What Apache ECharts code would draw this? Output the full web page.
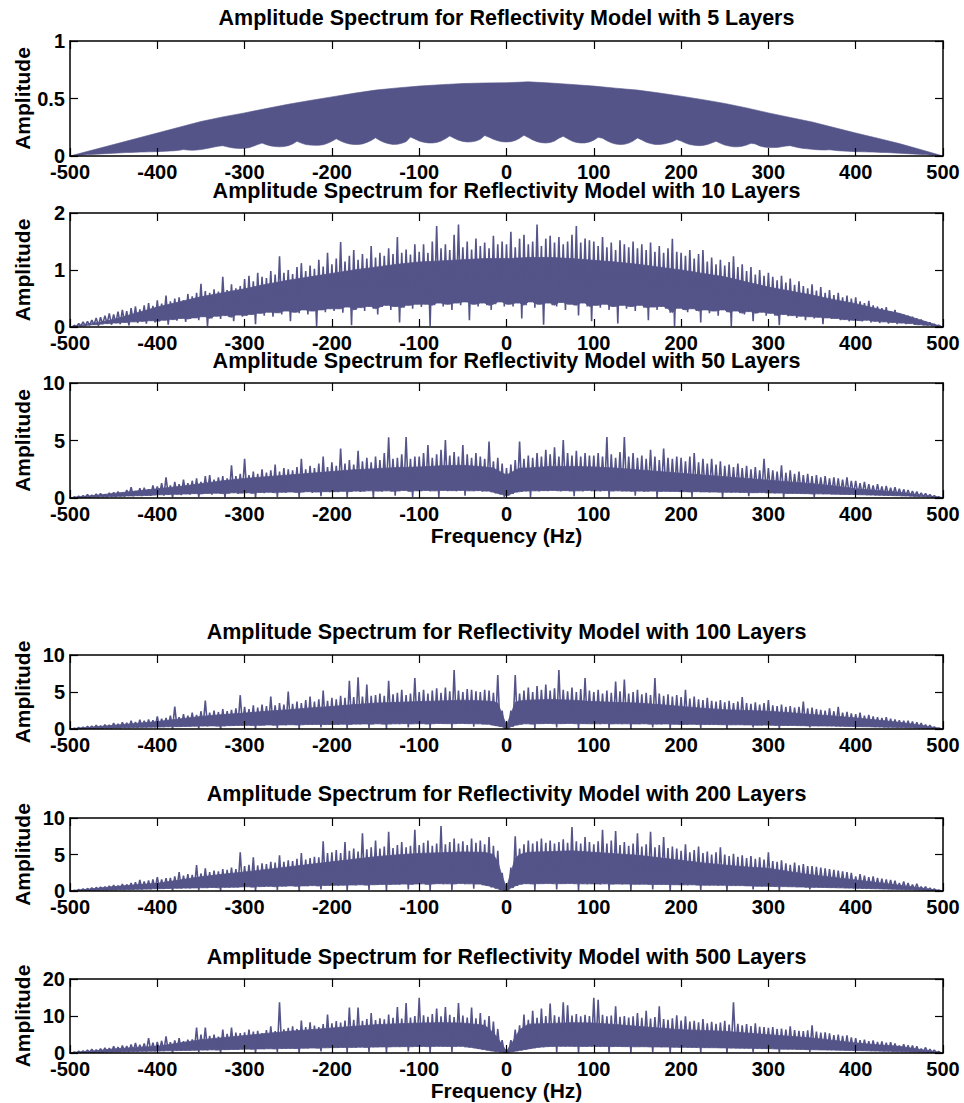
<!DOCTYPE html>
<html><head><meta charset="utf-8">
<script src="https://cdn.jsdelivr.net/npm/echarts@6/dist/echarts.min.js"></script>
<style>html,body{margin:0;padding:0;background:#fff}#c{width:964px;height:1103px}</style>
</head><body><div id="c"></div>
<script>
// ---------- data ----------
const titles = [
  'Amplitude Spectrum for Reflectivity Model with 5 Layers',
  'Amplitude Spectrum for Reflectivity Model with 10 Layers',
  'Amplitude Spectrum for Reflectivity Model with 50 Layers',
  'Amplitude Spectrum for Reflectivity Model with 100 Layers',
  'Amplitude Spectrum for Reflectivity Model with 200 Layers',
  'Amplitude Spectrum for Reflectivity Model with 500 Layers'
];
const yLabel = 'Amplitude';
const xLabel = 'Frequency (Hz)';
const xMin = -500, xMax = 500, xStep = 100;
const yMaxes = [1, 2, 10, 10, 10, 20];
const ySteps = [0.5, 1, 5, 5, 5, 10];

// frequency grids (Hz)
const freq25 = []; for (let f = -500; f <= 500; f += 25) freq25.push(f);
const freq5 = []; for (let f = -500; f <= 500; f += 5) freq5.push(f);
// frequencies at which the solid core top was read (finer near 0 Hz)
const coreFreq = [];
for (let f = -500; f <= -25; f += 25) coreFreq.push(f);
coreFreq.push(-15, -10, -5, 0, 5, 10, 15);
for (let f = 25; f <= 500; f += 25) coreFreq.push(f);

// 5 layers: upper envelope (25 Hz grid) and scalloped lower envelope (5 Hz grid)
const upper5L = [0,0.05,0.1,0.15,0.2,0.25,0.3,0.34,0.375,0.413,0.45,0.483,0.514,0.545,0.573,0.592,0.608,0.62,0.63,0.635,
  0.637,0.645,0.635,0.622,0.608,0.59,0.573,0.548,0.52,0.49,0.457,0.418,0.375,0.335,0.296,0.248,0.2,0.155,0.108,0.055,0];
const lower5L = [
  0,0.003,0.006,0.009,0.012,0.014,0.016,0.018,0.02,0.022,0.024,0.026,0.028,0.03,0.031,0.032,0.034,0.035,0.036,0.037,
  0.038,0.04,0.042,0.044,0.046,0.05,0.056,0.052,0.05,0.052,0.056,0.062,0.07,0.078,0.085,0.09,0.08,0.072,0.067,0.065,
  0.067,0.072,0.085,0.1,0.112,0.098,0.088,0.082,0.08,0.082,0.09,0.105,0.128,0.112,0.1,0.095,0.093,0.093,0.098,0.11,
  0.128,0.15,0.13,0.115,0.105,0.1,0.1,0.105,0.118,0.135,0.158,0.135,0.118,0.107,0.101,0.102,0.11,0.125,0.165,0.148,
  0.13,0.12,0.114,0.113,0.118,0.13,0.15,0.175,0.155,0.138,0.127,0.122,0.123,0.13,0.145,0.178,0.163,0.145,0.132,0.124,
  0.122,0.125,0.135,0.155,0.18,0.16,0.14,0.125,0.116,0.113,0.117,0.13,0.155,0.172,0.15,0.13,0.118,0.113,0.114,0.122,
  0.138,0.162,0.155,0.132,0.115,0.104,0.1,0.102,0.112,0.13,0.157,0.14,0.12,0.108,0.101,0.1,0.104,0.113,0.125,0.143,
  0.13,0.112,0.1,0.093,0.09,0.092,0.1,0.113,0.128,0.11,0.095,0.086,0.08,0.08,0.085,0.095,0.11,0.105,0.088,0.078,
  0.073,0.073,0.075,0.08,0.086,0.09,0.08,0.072,0.066,0.062,0.058,0.055,0.053,0.052,0.054,0.05,0.046,0.044,0.042,0.04,
  0.038,0.037,0.036,0.035,0.034,0.032,0.031,0.03,0.028,0.026,0.024,0.022,0.02,0.018,0.016,0.014,0.012,0.009,0.006,0.003,
  0];

// 10 layers: peaks (at -500+5i), troughs (at -497.5+5i), solid core top (at coreFreq)
const peaks10 = [
  0,0.03,0.06,0.09,0.1,0.12,0.16,0.17,0.2,0.24,0.22,0.27,0.3,0.28,0.33,0.36,0.31,0.38,0.42,0.37,
  0.47,0.41,0.55,0.45,0.5,0.52,0.47,0.58,0.54,0.6,0.76,0.63,0.6,0.66,0.62,0.88,0.65,0.75,0.68,0.72,
  0.84,0.9,0.8,0.95,0.88,0.86,0.98,0.92,1.24,0.95,1.0,0.93,1.05,1.12,0.98,1.08,1.02,1.18,1.06,1.3,
  1.1,1.2,1.49,1.15,1.25,1.35,1.18,1.28,1.2,1.42,1.22,1.3,1.25,1.38,1.28,1.58,1.3,1.36,1.27,1.45,
  1.32,1.45,1.3,1.5,1.77,1.38,1.45,1.35,1.62,1.8,1.4,1.5,1.36,1.55,1.42,1.48,1.38,1.6,1.45,1.5,
  1.45,1.67,1.4,1.55,1.62,1.45,1.5,1.8,1.42,1.55,1.6,1.48,1.58,1.45,1.5,1.62,1.77,1.48,1.55,1.52,
  1.5,1.42,1.58,1.4,1.48,1.35,1.52,1.45,1.4,1.5,1.38,1.45,1.35,1.48,1.32,1.42,1.3,1.38,1.55,1.32,
  1.3,1.25,1.35,1.2,1.28,1.35,1.15,1.22,1.1,1.18,1.08,1.14,1.24,1.05,1.1,0.98,1.05,0.92,1.0,0.9,
  0.95,0.88,0.82,0.9,0.78,0.85,0.74,0.8,0.72,0.68,0.75,0.64,0.7,0.6,0.65,0.56,0.6,0.52,0.55,0.5,
  0.52,0.45,0.42,0.46,0.38,0.36,0.33,0.35,0.28,0.3,0.24,0.22,0.2,0.18,0.15,0.13,0.1,0.08,0.05,0.03,
  0];
const troughs10 = [
  0,0.01,0.02,0.02,0.03,0.04,0.02,0.05,0.06,0.04,0.07,0.05,0.08,0.03,0.09,0.07,0.1,0.06,0.11,0.08,
  0.1,0.12,0.04,0.13,0.11,0.15,0.09,0.14,0.16,0.12,0.18,0.02,0.15,0.19,0.14,0.2,0.17,0.1,0.21,0.18,
  0.2,0.22,0.05,0.24,0.2,0.26,0.18,0.25,0.22,0.28,0.1,0.26,0.24,0.3,0.22,0.28,0.02,0.3,0.26,0.32,
  0.28,0.32,0.25,0.35,0.03,0.3,0.34,0.28,0.36,0.32,0.22,0.35,0.38,0.3,0.36,0.08,0.34,0.38,0.32,0.4,
  0.35,0.4,0.02,0.38,0.42,0.36,0.4,0.3,0.42,0.38,0.44,0.12,0.4,0.36,0.42,0.38,0.3,0.4,0.44,0.36,
  0.4,0.36,0.42,0.15,0.38,0.44,0.34,0.4,0.04,0.42,0.38,0.36,0.43,0.3,0.4,0.38,0.2,0.42,0.36,0.1,
  0.38,0.34,0.4,0.3,0.36,0.06,0.38,0.32,0.36,0.28,0.38,0.34,0.12,0.35,0.3,0.36,0.32,0.25,0.02,0.33,
  0.3,0.26,0.32,0.28,0.08,0.3,0.24,0.28,0.2,0.3,0.26,0.02,0.28,0.24,0.22,0.27,0.1,0.24,0.26,0.2,
  0.24,0.2,0.03,0.22,0.19,0.2,0.16,0.19,0.12,0.18,0.15,0.17,0.05,0.16,0.14,0.15,0.12,0.13,0.1,0.12,
  0.11,0.1,0.12,0.08,0.1,0.07,0.09,0.06,0.08,0.05,0.07,0.05,0.06,0.04,0.04,0.03,0.03,0.02,0.01,0.01];
const core10 = [0,0.06,0.13,0.24,0.35,0.44,0.53,0.6,0.67,0.75,0.82,0.88,0.94,1.0,1.05,1.1,1.14,1.16,1.18,1.2,
  1.2,1.2,1.2,1.2,1.2,1.21,1.21,
  1.22,1.22,1.2,1.17,1.14,1.1,1.05,1.0,0.94,0.88,0.79,0.7,0.63,0.56,0.48,0.41,0.32,0.24,0.12,0];

// 50 layers
const peaks50 = [
  0,0.1,0.15,0.2,0.3,0.25,0.35,0.4,0.3,0.45,0.5,0.55,0.45,0.7,0.95,0.6,0.85,0.9,0.75,1.1,
  1.0,1.3,1.8,1.1,1.4,1.2,1.6,1.3,1.5,1.7,1.4,1.9,2.0,1.6,1.8,1.9,1.7,2.85,1.9,2.1,
  3.4,2.0,2.3,2.1,2.5,2.2,2.4,2.9,2.3,2.6,2.5,2.4,2.7,3.4,2.5,2.8,2.6,3.0,3.6,2.7,
  3.1,2.8,4.3,3.0,3.3,2.9,4.1,3.2,3.5,3.1,3.6,3.3,3.9,5.27,3.4,3.5,3.8,5.3,3.4,3.6,
  3.6,3.9,4.6,3.5,3.8,4.2,5.03,3.7,4.0,3.6,4.6,3.8,3.5,3.9,3.6,3.4,4.9,3.2,3.5,3.0,
  2.6,2.9,3.3,4.9,3.4,3.7,3.5,3.9,3.6,4.2,3.8,4.4,3.6,5.03,3.9,3.7,4.1,3.6,3.9,3.7,
  3.7,3.9,3.6,5.3,3.8,3.5,4.0,5.3,3.6,3.9,3.5,3.7,3.4,4.2,3.6,3.3,4.3,3.5,3.4,3.6,
  3.5,3.2,3.6,3.9,3.1,3.4,3.0,3.4,2.9,3.2,2.8,2.9,2.7,3.0,2.6,2.8,2.5,2.7,2.4,3.4,
  2.6,2.4,2.3,2.85,2.2,2.4,2.1,2.3,2.0,2.1,1.9,2.0,1.8,1.9,1.7,1.8,1.7,1.6,1.8,1.5,
  1.5,1.3,1.4,1.2,1.1,1.2,1.0,1.05,0.9,0.95,0.8,0.75,0.7,0.6,0.55,0.45,0.4,0.3,0.2,0.1,
  0];
const troughs50 = [
  0,0.02,0.03,0.05,0.04,0.08,0.06,0.1,0.08,0.12,0.1,0.15,0.12,0.18,0.15,0.2,0.18,0.22,0.2,0.25,
  0.28,0.2,0.3,0.05,0.32,0.25,0.35,0.3,0.38,0.1,0.35,0.4,0.3,0.42,0.38,0.05,0.4,0.45,0.35,0.42,
  0.45,0.4,0.02,0.48,0.42,0.5,0.45,0.1,0.5,0.46,0.52,0.48,0.05,0.5,0.55,0.45,0.52,0.15,0.55,0.5,
  0.55,0.5,0.58,0.08,0.55,0.6,0.52,0.58,0.62,0.02,0.6,0.55,0.62,0.58,0.2,0.6,0.65,0.56,0.1,0.62,
  0.6,0.65,0.58,0.62,0.05,0.66,0.6,0.64,0.58,0.66,0.2,0.62,0.6,0.64,0.55,0.6,0.5,0.4,0.3,0.1,
  0.2,0.35,0.5,0.55,0.6,0.1,0.62,0.58,0.64,0.6,0.66,0.62,0.58,0.64,0.6,0.15,0.62,0.58,0.65,0.6,
  0.62,0.58,0.64,0.05,0.6,0.62,0.56,0.6,0.58,0.2,0.6,0.55,0.58,0.6,0.02,0.56,0.58,0.54,0.57,0.55,
  0.55,0.52,0.1,0.55,0.5,0.53,0.48,0.52,0.5,0.02,0.5,0.47,0.5,0.45,0.48,0.15,0.46,0.44,0.47,0.42,
  0.44,0.4,0.43,0.05,0.4,0.38,0.4,0.36,0.38,0.35,0.1,0.36,0.33,0.35,0.32,0.33,0.3,0.31,0.28,0.3,
  0.27,0.28,0.25,0.26,0.23,0.24,0.21,0.22,0.19,0.2,0.17,0.18,0.15,0.14,0.12,0.11,0.09,0.07,0.05,0.03];
const core50 = [0,0.2,0.4,0.6,0.8,1.0,1.25,1.5,1.7,1.85,2.0,2.15,2.3,2.45,2.55,2.65,2.7,2.8,2.85,2.7,
  2.6,2.4,2.2,2.0,2.2,2.4,2.6,
  2.6,2.75,2.75,2.7,2.6,2.45,2.3,2.15,2.0,1.85,1.7,1.55,1.4,1.25,1.05,0.8,0.65,0.5,0.25,0];

// 100 layers
const peaks100 = [
  0,0.1,0.2,0.25,0.35,0.4,0.5,0.45,0.6,0.55,0.8,0.7,0.9,0.85,1.1,0.95,1.25,1.1,1.3,1.2,
  1.7,1.4,1.5,1.8,3.04,1.6,2.0,1.8,2.2,1.9,2.4,3.85,2.2,2.5,2.3,2.7,2.4,2.6,2.8,4.57,
  3.0,2.7,3.2,2.9,3.3,3.1,4.4,3.2,3.5,3.3,5.06,3.4,3.7,3.5,3.9,4.4,3.7,4.0,5.2,3.8,
  4.2,4.0,4.5,4.2,6.5,4.3,7.0,4.4,6.0,4.5,4.6,4.8,4.5,6.5,4.7,4.9,5.3,4.6,4.8,6.9,
  5.0,5.3,4.8,5.2,5.5,4.9,5.6,5.1,7.98,5.2,5.0,5.4,5.3,5.1,5.0,5.3,5.2,4.9,7.3,2.5,
  0.8,2.5,7.3,4.8,5.2,5.6,5.0,5.8,5.3,6.0,5.2,5.5,7.98,5.3,5.1,5.6,5.0,5.4,6.9,5.2,
  5.0,5.3,4.8,5.2,4.9,6.4,5.1,6.7,4.8,5.0,5.3,4.7,4.9,4.6,6.9,4.8,4.5,4.7,4.4,4.6,
  4.3,5.3,4.1,4.4,4.0,3.9,4.2,3.8,3.7,3.9,3.6,3.8,3.5,3.7,4.3,3.5,3.4,3.6,3.3,3.5,
  3.9,3.2,3.1,3.3,3.0,3.1,2.9,3.0,3.7,2.8,2.9,2.7,2.6,2.5,2.8,2.4,3.0,2.2,2.3,2.1,
  2.0,2.2,1.8,1.9,1.7,1.6,1.5,1.6,1.4,1.3,1.2,1.1,1.1,1.0,0.9,0.8,0.6,0.5,0.3,0.15,
  0];
const troughs100 = [
  0,0.02,0.05,0.04,0.08,0.06,0.1,0.08,0.12,0.1,0.15,0.12,0.18,0.15,0.2,0.18,0.22,0.2,0.25,0.22,
  0.28,0.25,0.3,0.05,0.32,0.3,0.35,0.32,0.38,0.1,0.4,0.36,0.42,0.38,0.05,0.4,0.45,0.42,0.48,0.44,
  0.5,0.46,0.02,0.5,0.48,0.55,0.5,0.15,0.55,0.5,0.58,0.54,0.02,0.56,0.6,0.55,0.62,0.2,0.6,0.58,
  0.62,0.58,0.65,0.05,0.6,0.66,0.62,0.68,0.15,0.64,0.7,0.65,0.02,0.66,0.7,0.64,0.72,0.2,0.68,0.7,
  0.72,0.66,0.05,0.7,0.74,0.68,0.72,0.1,0.7,0.75,0.68,0.72,0.3,0.7,0.6,0.65,0.5,0.4,0.3,0.05,
  0.05,0.3,0.5,0.6,0.7,0.65,0.05,0.72,0.68,0.74,0.7,0.2,0.72,0.68,0.75,0.7,0.05,0.72,0.68,0.7,
  0.7,0.66,0.72,0.1,0.68,0.7,0.65,0.7,0.02,0.68,0.66,0.7,0.64,0.2,0.66,0.62,0.68,0.05,0.64,0.6,
  0.62,0.58,0.64,0.6,0.15,0.6,0.56,0.6,0.55,0.58,0.02,0.56,0.54,0.57,0.52,0.55,0.2,0.52,0.5,0.53,
  0.5,0.48,0.05,0.48,0.45,0.47,0.44,0.45,0.42,0.2,0.42,0.4,0.41,0.38,0.4,0.36,0.37,0.34,0.35,0.32,
  0.32,0.3,0.3,0.28,0.27,0.26,0.24,0.23,0.22,0.2,0.19,0.17,0.16,0.14,0.12,0.1,0.08,0.06,0.04,0.02];
const core100 = [0,0.25,0.5,0.75,1.0,1.35,1.7,1.95,2.15,2.4,2.6,2.85,3.05,3.3,3.5,3.6,3.7,3.8,3.9,3.8,
  3.7,3.5,2.0,0.5,2.0,3.6,3.8,
  3.9,4.0,3.9,3.7,3.6,3.5,3.3,3.05,2.8,2.6,2.5,2.4,2.2,1.95,1.75,1.5,1.2,0.9,0.5,0];

// 200 layers
const peaks200 = [
  0,0.1,0.2,0.3,0.35,0.45,0.5,0.55,0.6,0.7,0.8,0.75,0.95,0.9,1.1,1.2,1.5,1.3,1.45,1.6,
  1.9,1.6,1.75,1.8,2.0,2.6,2.1,2.3,2.2,3.55,2.4,3.1,2.6,2.8,2.7,3.0,2.9,3.2,3.0,5.3,
  3.4,3.6,4.6,3.5,3.8,3.7,4.0,3.9,4.9,4.0,4.2,4.1,4.4,5.2,4.3,4.5,4.7,4.6,6.8,5.2,
  5.3,5.6,5.2,6.7,5.5,5.8,5.4,7.9,5.7,6.0,6.9,5.8,6.1,8.1,5.9,6.3,6.7,6.0,6.2,8.4,
  6.3,6.6,6.9,6.2,6.5,8.9,6.4,6.7,7.2,6.5,6.8,6.3,7.2,6.6,6.9,6.4,7.4,6.2,5.5,2.5,
  0.6,3.2,7.5,5.8,6.4,6.9,6.5,6.8,7.2,6.6,6.9,6.5,6.7,7.1,6.6,8.75,6.8,6.5,7.4,6.7,
  6.4,6.8,8.4,6.5,6.9,8.2,6.3,6.7,6.2,6.5,7.9,6.1,6.4,8.1,6.0,6.3,7.4,5.9,6.1,5.8,
  5.5,6.4,5.3,5.6,6.1,5.2,5.4,5.0,5.3,6.0,5.0,4.8,5.1,4.7,4.9,4.5,4.8,4.4,4.6,4.3,
  5.3,4.1,4.0,4.2,3.8,3.6,3.9,3.5,3.7,3.4,3.4,3.3,3.2,3.1,3.0,2.9,2.8,2.7,2.6,2.5,
  2.0,2.3,2.1,1.9,2.0,1.8,1.7,1.6,1.5,1.4,1.1,1.3,1.1,0.9,1.0,0.6,0.6,0.4,0.3,0.15,
  0];
const troughs200 = [
  0,0.02,0.05,0.04,0.08,0.06,0.1,0.12,0.1,0.15,0.12,0.18,0.15,0.2,0.18,0.24,0.2,0.26,0.22,0.3,
  0.32,0.28,0.35,0.05,0.38,0.34,0.4,0.36,0.42,0.1,0.45,0.4,0.48,0.44,0.05,0.5,0.46,0.52,0.48,0.55,
  0.58,0.52,0.02,0.6,0.56,0.64,0.58,0.15,0.66,0.62,0.7,0.64,0.02,0.7,0.66,0.74,0.68,0.2,0.76,0.72,
  0.78,0.72,0.8,0.05,0.82,0.76,0.85,0.8,0.15,0.86,0.82,0.9,0.02,0.88,0.92,0.85,0.95,0.2,0.9,0.95,
  0.98,0.9,0.05,0.95,1.0,0.92,0.98,0.1,0.95,1.02,0.94,0.98,0.3,0.95,0.8,0.7,0.5,0.3,0.15,0.05,
  0.1,0.4,0.7,0.9,1.0,0.95,0.05,1.0,0.96,1.02,0.98,0.2,1.0,0.95,1.02,0.98,0.05,0.98,0.94,0.98,
  0.96,0.9,0.98,0.1,0.94,0.96,0.9,0.95,0.02,0.92,0.9,0.94,0.88,0.2,0.9,0.86,0.9,0.05,0.86,0.82,
  0.84,0.8,0.85,0.8,0.15,0.8,0.76,0.8,0.74,0.78,0.02,0.74,0.7,0.74,0.68,0.7,0.2,0.66,0.64,0.66,
  0.62,0.6,0.05,0.6,0.56,0.58,0.54,0.55,0.5,0.2,0.5,0.48,0.48,0.45,0.46,0.42,0.43,0.4,0.4,0.37,
  0.36,0.34,0.33,0.31,0.3,0.28,0.27,0.25,0.24,0.22,0.2,0.18,0.17,0.15,0.13,0.11,0.09,0.07,0.05,0.02];
const core200 = [0,0.3,0.6,0.85,1.05,1.5,1.95,2.3,2.6,2.95,3.3,3.65,4.0,4.35,4.7,4.95,5.15,5.25,5.35,5.3,
  5.0,4.0,2.0,0.5,2.5,4.5,5.0,
  5.3,5.4,5.5,5.3,5.1,4.9,4.55,4.2,3.85,3.55,3.3,3.1,2.65,2.2,1.85,1.5,1.15,0.8,0.4,0];

// 500 layers
const peaks500 = [
  0,0.3,0.5,0.6,0.8,1.0,0.9,1.2,1.4,1.3,1.8,1.6,2.0,1.9,2.3,2.7,2.2,2.6,4.0,2.8,
  3.0,3.3,4.5,2.9,3.4,4.05,3.2,3.6,3.7,6.9,5.0,6.9,4.6,5.0,4.4,6.3,5.2,6.9,5.5,5.4,
  5.6,6.3,5.8,6.0,5.4,6.2,7.2,5.9,13.7,6.4,6.8,7.2,6.5,8.8,7.0,8.3,7.4,7.0,7.8,10.4,
  8.0,8.6,8.2,8.8,12.3,9.0,12.3,8.7,9.2,10.8,8.9,9.4,9.1,10.4,9.5,12.4,9.3,13.5,9.6,10.0,
  14.9,10.2,9.8,10.5,12.0,9.9,12.4,10.3,9.7,13.5,10.1,9.6,12.3,9.4,10.8,9.0,10.0,8.5,6.5,3.5,
  0.9,3.5,6.3,7.5,10.4,9.0,11.4,9.5,12.0,10.0,13.4,10.2,9.8,13.7,12.9,10.1,10.5,9.9,10.3,10.0,
  14.9,14.4,10.3,9.9,10.1,12.6,9.8,10.0,9.6,9.9,10.8,9.5,11.4,9.3,9.7,12.6,9.2,9.0,9.4,10.2,
  8.8,9.9,8.5,8.7,8.3,9.2,8.0,8.4,7.9,8.2,8.7,7.7,13.7,7.9,7.5,7.8,7.3,8.0,7.1,7.0,
  6.8,7.0,6.5,6.6,6.3,7.2,6.2,6.0,5.9,6.1,7.5,5.8,5.5,5.6,5.3,4.8,5.0,4.6,4.8,4.2,
  4.0,3.5,3.6,3.2,3.4,3.0,3.1,2.8,2.9,2.6,2.0,2.4,2.1,2.0,1.8,1.2,1.5,1.0,0.8,0.4,
  0];
const troughs500 = [
  0,0.05,0.1,0.08,0.15,0.12,0.2,0.18,0.25,0.22,0.3,0.26,0.35,0.3,0.4,0.36,0.45,0.4,0.5,0.46,
  0.55,0.5,0.6,0.1,0.65,0.58,0.7,0.64,0.75,0.2,0.8,0.72,0.85,0.78,0.1,0.9,0.85,0.95,0.88,1.0,
  1.05,0.98,0.05,1.1,1.04,1.15,1.08,0.3,1.2,1.14,1.25,1.18,0.05,1.3,1.24,1.35,1.28,0.4,1.4,1.34,
  1.45,1.38,1.5,0.1,1.52,1.46,1.58,1.5,0.3,1.6,1.55,1.65,0.05,1.62,1.7,1.6,1.72,0.4,1.68,1.75,
  1.78,1.7,0.1,1.75,1.8,1.72,1.78,0.3,1.74,1.8,1.6,1.5,1.3,1.1,0.9,0.7,0.5,0.35,0.2,0.05,
  0.1,0.3,0.5,0.7,0.9,1.1,1.3,1.5,1.6,1.7,1.75,0.2,1.8,1.74,1.8,1.76,0.05,1.78,1.72,1.8,
  1.76,1.7,1.78,0.1,1.72,1.75,1.68,1.72,0.05,1.68,1.65,1.7,1.62,0.3,1.64,1.58,1.62,0.05,1.56,1.52,
  1.54,1.48,1.52,1.46,0.2,1.44,1.4,1.42,1.36,1.38,0.05,1.32,1.28,1.3,1.24,1.26,0.3,1.2,1.16,1.18,
  1.12,1.08,0.1,1.04,1.0,1.02,0.96,0.97,0.9,0.3,0.88,0.84,0.84,0.8,0.8,0.76,0.74,0.7,0.7,0.66,
  0.64,0.6,0.58,0.55,0.52,0.5,0.46,0.44,0.4,0.38,0.35,0.32,0.3,0.27,0.24,0.2,0.16,0.12,0.08,0.04];
const core500 = [0,0.5,1.1,1.5,1.8,2.7,3.6,4.15,4.7,5.3,5.85,6.3,6.75,7.2,7.65,7.9,8.1,8.2,8.1,7.5,
  5.5,4.0,2.2,0.5,2.2,4.2,6.3,
  7.8,8.0,8.2,8.1,7.7,7.2,6.75,6.3,6.1,5.85,5.4,4.95,4.5,4.05,3.4,2.7,2.2,1.8,0.9,0];

// ---------- layout / style ----------
const COLOR = '#545489';
const FONT = '"Liberation Sans", Arial, Helvetica, sans-serif';
const PLOT_L = 70, PLOT_R = 21;
const gridTops = [41, 213, 383, 655, 818, 979];
const gridHeights = [115, 114, 115, 74, 73, 74];
const titleY = [18, 190.5, 361, 632, 794, 956.5];
const freqLabelY = {2: 535, 5: 1090};

// zig-zag trace between peaks and troughs
function zig(peaks, troughs) {
  const d = [];
  for (let i = 0; i < peaks.length; i++) {
    d.push([freq5[i], peaks[i]]);
    if (i < troughs.length) d.push([freq5[i] + 2.5, troughs[i]]);
  }
  return d;
}
// solid core: from the read core-top line down to the level the troughs leave filled
function coreBand(core, troughs) {
  const up = coreFreq.map((f, k) => [f, core[k]]);
  const lo = [];
  for (let i = 0; i < freq5.length; i++) {
    const a = i > 0 ? troughs[i - 1] : 0;
    const b = i < troughs.length ? troughs[i] : 0;
    lo.push([freq5[i], Math.max(a, b)]);
  }
  return {up, lo};
}

const chart = echarts.init(document.getElementById('c'), null, {renderer: 'svg', width: 964, height: 1103});
const grids = [], xAxes = [], yAxes = [], series = [], graphics = [];
const axisLine = {show: true, onZero: false, lineStyle: {color: '#000', width: 1.5}};
const tick = {show: true, inside: true, length: 8, lineStyle: {color: '#000', width: 1.2}};
const lbl = {color: '#000', fontSize: 20, fontWeight: 'bold', fontFamily: FONT, lineHeight: 15};

for (let i = 0; i < 6; i++) {
  grids.push({left: PLOT_L, right: PLOT_R, top: gridTops[i], height: gridHeights[i], containLabel: false});
  xAxes.push({gridIndex: i, type: 'value', min: xMin, max: xMax, interval: xStep, position: 'bottom', z: 5,
    axisLine, axisTick: tick, splitLine: {show: false}, axisLabel: Object.assign({margin: 8}, lbl)});
  xAxes.push({gridIndex: i, type: 'value', min: xMin, max: xMax, interval: xStep, position: 'top', z: 5,
    axisLine, axisTick: tick, splitLine: {show: false}, axisLabel: {show: false}});
  yAxes.push({gridIndex: i, type: 'value', min: 0, max: yMaxes[i], interval: ySteps[i], position: 'left', z: 5,
    axisLine, axisTick: tick, splitLine: {show: false}, axisLabel: Object.assign({margin: 5}, lbl)});
  yAxes.push({gridIndex: i, type: 'value', min: 0, max: yMaxes[i], interval: ySteps[i], position: 'right', z: 5,
    axisLine, axisTick: tick, splitLine: {show: false}, axisLabel: {show: false}});

  graphics.push({type: 'text', x: (PLOT_L + 964 - PLOT_R) / 2, y: titleY[i], silent: true,
    style: {text: titles[i], fill: '#000', font: 'bold 21.5px ' + FONT, lineHeight: 16, textAlign: 'center', textVerticalAlign: 'middle'}});
  graphics.push({type: 'text', x: 22, y: gridTops[i] + gridHeights[i] / 2, rotation: Math.PI / 2, silent: true,
    style: {text: yLabel, fill: '#000', font: 'bold 21px ' + FONT, lineHeight: 16, textAlign: 'center', textVerticalAlign: 'middle'}});
  if (freqLabelY[i] !== undefined) {
    graphics.push({type: 'text', x: (PLOT_L + 964 - PLOT_R) / 2, y: freqLabelY[i], silent: true,
      style: {text: xLabel, fill: '#000', font: 'bold 21px ' + FONT, lineHeight: 16, textAlign: 'center', textVerticalAlign: 'middle'}});
  }
}

// 5-layer band as a polygon between the two envelopes
series.push({type: 'custom', coordinateSystem: 'cartesian2d', xAxisIndex: 0, yAxisIndex: 0,
  data: [[0, 0]], silent: true, clip: true,
  renderItem: function (params, api) {
    const pts = [];
    for (let k = 0; k < upper5L.length; k++) pts.push(api.coord([freq25[k], upper5L[k]]));
    for (let k = lower5L.length - 1; k >= 0; k--) pts.push(api.coord([freq5[k], lower5L[k]]));
    return {type: 'polygon', shape: {points: pts}, style: {fill: COLOR, stroke: COLOR, lineWidth: 0.6}};
  }});

const traces = [
  [peaks10, troughs10, core10], [peaks50, troughs50, core50], [peaks100, troughs100, core100],
  [peaks200, troughs200, core200], [peaks500, troughs500, core500]];
traces.forEach((t, j) => {
  const gi = j + 1;
  const band = coreBand(t[2], t[1]);
  series.push({type: 'custom', coordinateSystem: 'cartesian2d', xAxisIndex: gi * 2, yAxisIndex: gi * 2,
    data: [[0, 0]], silent: true, clip: true,
    renderItem: function (params, api) {
      const pts = band.up.map(p => api.coord(p));
      for (let k = band.lo.length - 1; k >= 0; k--) pts.push(api.coord(band.lo[k]));
      return {type: 'polygon', shape: {points: pts}, style: {fill: COLOR, stroke: COLOR, lineWidth: 0.8}};
    }});
  series.push({type: 'line', xAxisIndex: gi * 2, yAxisIndex: gi * 2, data: zig(t[0], t[1]),
    symbol: 'none', showSymbol: false, silent: true, clip: true,
    lineStyle: {color: COLOR, width: 1.6}});
});

chart.setOption({
  animation: false,
  backgroundColor: '#fff',
  grid: grids, xAxis: xAxes, yAxis: yAxes, series: series, graphic: graphics
});
</script>
</body></html>
